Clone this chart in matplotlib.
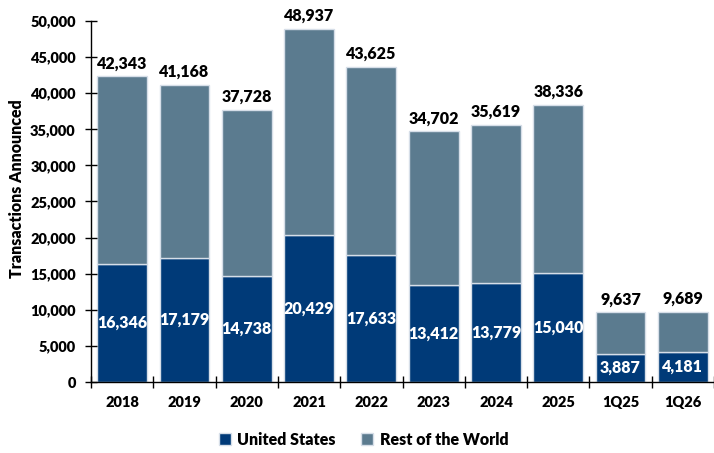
import numpy as np
import matplotlib.pyplot as plt
from matplotlib.ticker import FuncFormatter, MultipleLocator

plt.rcParams['font.family'] = ['Lato', 'DejaVu Sans']
plt.rcParams['font.weight'] = 'heavy'
W = 'heavy'

periods = ['2018', '2019', '2020', '2021', '2022', '2023', '2024', '2025', '1Q25', '1Q26']
totals = [42343, 41168, 37728, 48937, 43625, 34702, 35619, 38336, 9637, 9689]
us = [16346, 17179, 14738, 20429, 17633, 13412, 13779, 15040, 3887, 4181]
rest = [t - u for t, u in zip(totals, us)]

us_color = '#003A78'
row_color = '#5B7B8F'
edge = '#D6DEE8'

fig = plt.figure(figsize=(7.14, 4.53), dpi=100)
ax = fig.add_axes([0.1275, 0.1567, 0.8725, 0.797])

x = np.arange(len(periods))
ax.bar(x, us, width=0.8, color=us_color, edgecolor=edge, linewidth=1, label='United States')
ax.bar(x, rest, width=0.8, bottom=us, color=row_color, edgecolor=edge, linewidth=1,
       label='Rest of the World')

for xi, t, u in zip(x, totals, us):
    ax.text(xi, t + 700, f'{t:,}', ha='center', va='bottom', fontsize=11.5, fontweight=W)
    ax.text(xi, u / 2, f'{u:,}', ha='center', va='center', fontsize=11.5,
            fontweight=W, color='white')

ax.set_xlim(-0.5, len(periods) - 0.5)
ax.set_ylim(0, 50000)
ax.yaxis.set_major_locator(MultipleLocator(5000))
ax.yaxis.set_major_formatter(FuncFormatter(lambda v, p: f'{int(v):,}'))
ax.set_xticks(x)
ax.set_xticklabels(periods)
ax.set_xticks(np.arange(-0.5, len(periods), 1), minor=True)
ax.tick_params(axis='x', which='major', length=0, pad=10, labelsize=10.5)
ax.tick_params(axis='x', which='minor', direction='inout', length=8, width=1)
ax.tick_params(axis='y', direction='inout', length=8, width=1, labelsize=10.5, pad=7)
for lbl in ax.get_xticklabels() + ax.get_yticklabels():
    lbl.set_fontweight(W)

ax.spines['top'].set_visible(False)
ax.spines['right'].set_visible(False)
ax.spines['left'].set_linewidth(1)
ax.spines['bottom'].set_linewidth(1)

ax.set_ylabel('Transactions Announced', fontsize=11.5, fontweight=W, labelpad=4, y=0.537)

fig.legend(loc='center', bbox_to_anchor=(0.509, 0.029), ncol=2, frameon=False,
           prop={'size': 11.5, 'weight': W}, handlelength=0.75, handleheight=0.75,
           handletextpad=0.4, columnspacing=1.6)

fig.savefig('out.png', dpi=100)
